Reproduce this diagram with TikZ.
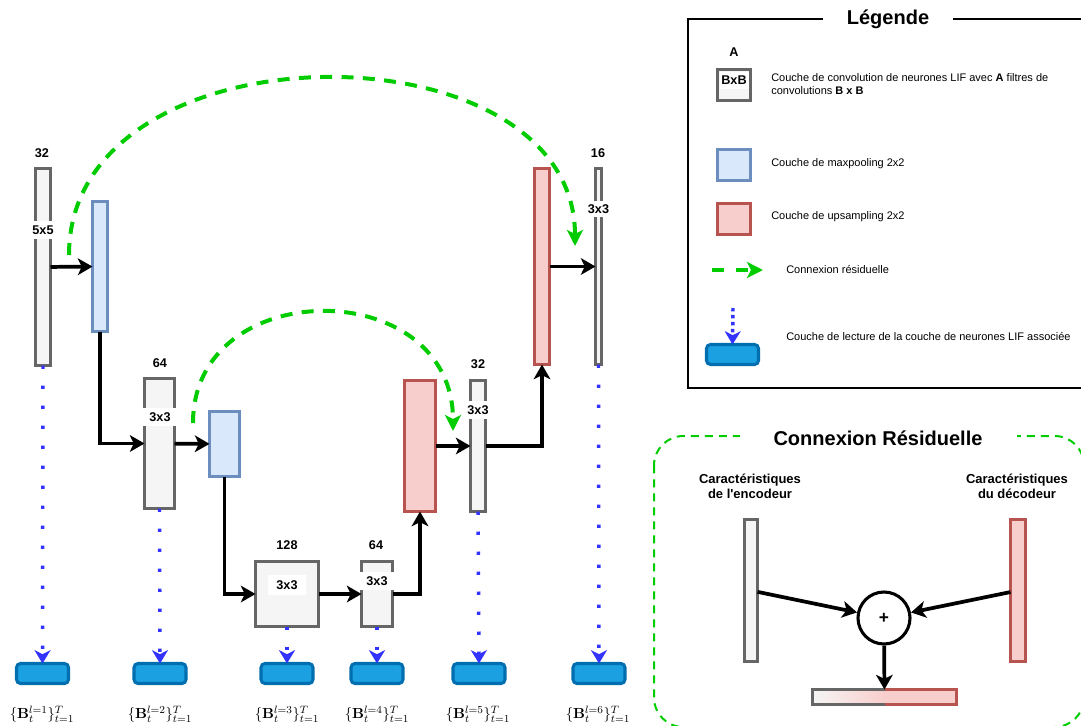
\documentclass[tikz,border=0pt]{standalone}
\usepackage[no-math]{fontspec}
\setmainfont{Liberation Sans}[Ligatures=TeXOff]
\usepackage{amsmath}
\usetikzlibrary{arrows.meta}
\definecolor{cgray}{HTML}{666666}
\definecolor{cgrayf}{HTML}{F5F5F5}
\definecolor{cblue}{HTML}{6C8EBF}
\definecolor{cbluef}{HTML}{DAE8FC}
\definecolor{cred}{HTML}{B85450}
\definecolor{credf}{HTML}{F8CECC}
\definecolor{cgreen}{HTML}{00CC00}
\definecolor{creadf}{HTML}{1BA1E2}
\definecolor{creads}{HTML}{006EAF}
\definecolor{cdot}{HTML}{3333FF}
\begin{document}
\begin{tikzpicture}[x=0.75pt,y=-0.75pt,
  font=\fontsize{9.5}{11}\selectfont,
  sz/.style 2 args={minimum width=#1*0.75pt, minimum height=#2*0.75pt, inner sep=0pt, outer sep=0pt},
  convb/.style={draw=cgray, fill=cgrayf, line width=2.3pt},
  poolb/.style={draw=cblue, fill=cbluef, line width=2.3pt},
  upb/.style={draw=cred, fill=credf, line width=2.3pt},
  readb/.style={draw=creads, fill=creadf, line width=2.3pt, rounded corners=3pt, sz={52}{20}},
  lbl/.style={font=\fontsize{9.5}{11}\selectfont\bfseries, inner sep=0pt},
  klbl/.style={lbl, fill=white, inner xsep=0.5pt, minimum height=18*0.75pt},
  flow/.style={line width=2.8pt, -{Stealth[length=11pt,width=12.5pt,inset=3pt]}},
  resid/.style={cgreen, line width=3pt, dash pattern=on 9pt off 7pt, -{Stealth[length=12pt,width=12pt,inset=3pt]}},
  readout/.style={cdot, line width=2.6pt, dash pattern=on 2.6pt off 12.4pt, -{Stealth[length=10pt,width=12pt,inset=3pt]}},
  txt/.style={font=\fontsize{8.25}{9.75}\selectfont, anchor=west, align=left, inner sep=0pt},
  mathl/.style={font=\fontsize{11.3}{13}\selectfont, inner sep=0pt},
  ttl/.style={font=\fontsize{15}{18}\selectfont\bfseries, fill=white, inner sep=0pt, minimum height=20*0.75pt}
]
\useasboundingbox (0,0) rectangle (1081,725);

% ---------------- network ----------------
\node[convb, sz={15}{197}] (c1) at (43,267) {};
\node[poolb, sz={15}{130}] (p1) at (100,266.5) {};
\node[convb, sz={30}{130}] (c2) at (159.5,443.5) {};
\node[poolb, sz={30}{65}] (p2) at (224.5,444) {};
\node[convb, sz={63}{65}] (c3) at (287,594) {};
\node[convb, sz={31}{65}] (c4) at (377,594) {};
\node[upb, sz={31}{131}] (u1) at (420,446) {};
\node[convb, sz={15}{131}] (c5) at (478,446) {};
\node[upb, sz={15}{196}] (u2) at (542,266.5) {};
\node[convb, sz={6}{196}] (c6) at (598.5,266.5) {};

\draw[flow] (c1) -- (p1);
\draw[flow] (p1.south) |- (c2.west);
\draw[flow] (c2) -- (p2);
\draw[flow] (p2.south) |- (c3.west);
\draw[flow] (c3) -- (c4);
\draw[flow] (c4.east) -| (u1.south);
\draw[flow] (u1) -- (c5);
\draw[flow] (c5.east) -| (u2.south);
\draw[flow] (u2) -- (c6);

% labels
\node[lbl] (n1) at (42,153) {32};
\node[lbl] (n2) at (160,363) {64};
\node[lbl] (n3) at (287,545) {128};
\node[lbl] (n4) at (376,545) {64};
\node[lbl] (n5) at (478,364) {32};
\node[lbl] (n6) at (598,153) {16};
\node[klbl] (k1) at (43,230) {5x5};
\node[klbl, minimum width=36*0.75pt] (k2) at (160,417) {3x3};
\node[klbl, minimum width=38*0.75pt, minimum height=20*0.75pt] (k3) at (287,585) {3x3};
\node[klbl, minimum width=37*0.75pt] (k4) at (377,581) {3x3};
\node[klbl] (k5) at (478,410) {3x3};
\node[klbl, minimum height=16*0.75pt] (k6) at (598.5,209) {3x3};

% residual connections
\coordinate (g1s) at (69,255);
\coordinate (g1e) at (575,246);
\draw[resid] (g1s) .. controls (69,21) and (575,21) .. (g1e);
\coordinate (g2s) at (193,423);
\coordinate (g2e) at (453,431);
\draw[resid] (g2s) .. controls (193,274) and (453,274) .. (g2e);

% readouts
\node[readb] (r1) at (42.5,673.5) {};
\node[readb] (r2) at (160,673.5) {};
\node[readb] (r3) at (287,673.5) {};
\node[readb] (r4) at (377,673.5) {};
\node[readb] (r5) at (479,673.5) {};
\node[readb] (r6) at (599,673.5) {};
\draw[readout] (c1.south) -- (r1.north);
\draw[readout] (c2.south) -- (r2.north);
\draw[readout] (c3.south) -- (r3.north);
\draw[readout] (c4.south) -- (r4.north);
\draw[readout] (c5.south) -- (r5.north);
\draw[readout] (c6.south) -- (r6.north);
\node[mathl] (b1) at (42,714) {$\{\mathbf{B}_t^{l=1}\}_{t=1}^T$};
\node[mathl] (b2) at (160,714) {$\{\mathbf{B}_t^{l=2}\}_{t=1}^T$};
\node[mathl] (b3) at (287,714) {$\{\mathbf{B}_t^{l=3}\}_{t=1}^T$};
\node[mathl] (b4) at (377,714) {$\{\mathbf{B}_t^{l=4}\}_{t=1}^T$};
\node[mathl] (b5) at (478,714) {$\{\mathbf{B}_t^{l=5}\}_{t=1}^T$};
\node[mathl] (b6) at (598,714) {$\{\mathbf{B}_t^{l=6}\}_{t=1}^T$};

% ---------------- legend ----------------
\draw[line width=1.5pt] (688,19) rectangle (1086,388);
\node[ttl, minimum width=130*0.75pt] (lgt) at (888,19) {Légende};
\node[lbl] (lga) at (734,52) {A};
\node[convb, sz={33}{31}] (lg1) at (734,85) {};
\node[klbl, minimum width=29*0.75pt, minimum height=17*0.75pt] (lg1t) at (734,80) {BxB};
\node[txt] (lt1) at (771,84) {Couche de convolution de neurones LIF avec \textbf{A} filtres de\\convolutions \textbf{B x B}};
\node[poolb, sz={33}{31}] (lg2) at (734,165) {};
\node[txt] (lt2) at (771,164) {Couche de maxpooling 2x2};
\node[upb, sz={33}{31}] (lg3) at (734,219) {};
\node[txt] (lt3) at (771,217) {Couche de upsampling 2x2};
\coordinate (lg4a) at (712,270);
\coordinate (lg4b) at (763,270);
\draw[resid, dash pattern=on 9pt off 9pt] (lg4a) -- (lg4b);
\node[txt] (lt4) at (786,269) {Connexion résiduelle};
\node[readb] (lg5) at (732.5,354.5) {};
\coordinate (lg5a) at (733,308);
\draw[readout, dash pattern=on 2.6pt off 2.6pt] (lg5a) -- (lg5.north);
\node[txt] (lt5) at (786,336) {Couche de lecture de la couche de neurones LIF associée};

% ---------------- residual explanation ----------------
\draw[cgreen, line width=1.5pt, dash pattern=on 6pt off 4.5pt, rounded corners=22pt] (654,436) rectangle (1084,727);
\node[ttl, minimum width=277*0.75pt] (rt) at (878,438) {Connexion Résiduelle};
\node[lbl, font=\fontsize{9.75}{11.25}\selectfont\bfseries, align=center] (et) at (750,486) {Caractéristiques\\de l'encodeur};
\node[lbl, font=\fontsize{9.75}{11.25}\selectfont\bfseries, align=center] (dt) at (1017,486) {Caractéristiques\\du décodeur};
\node[convb, sz={13}{142}] (enc) at (751,590.5) {};
\node[upb, sz={15}{142}] (dec) at (1018,590.5) {};
\node[draw, circle, line width=2.3pt, minimum size=52*0.75pt, inner sep=0pt, font=\fontsize{13}{15}\selectfont\bfseries] (plus) at (884,618) {+};
\node[sz={144}{15}] (bar) at (884.5,697) {};
\fill[credf] (bar.north) rectangle (bar.south east);
\shade[left color=cgrayf, right color=credf] (bar.north west) rectangle (bar.south);
\draw[cgray, line width=2.3pt] (bar.north) -| (bar.west) |- (bar.south);
\draw[cred, line width=2.3pt] (bar.north) -| (bar.east) |- (bar.south);
\draw[flow] (enc) -- (plus);
\draw[flow] (dec) -- (plus);
\draw[flow] (plus) -- (bar);
\end{tikzpicture}
\end{document}
